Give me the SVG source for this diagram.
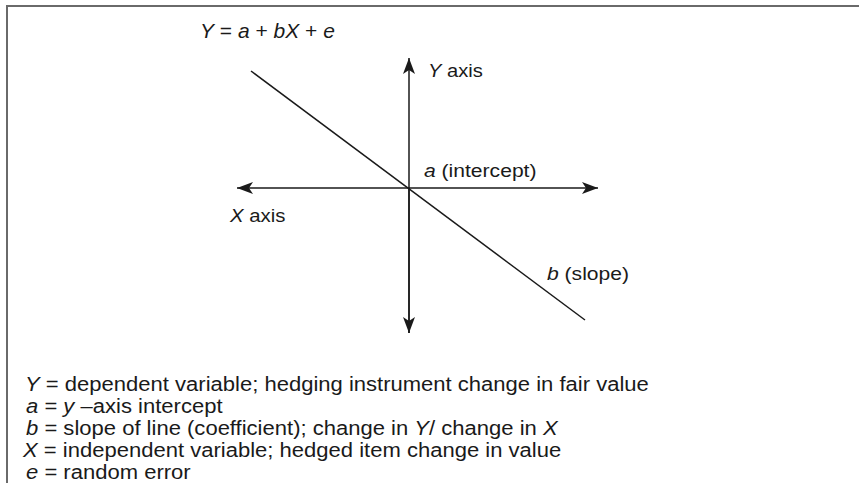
<svg xmlns="http://www.w3.org/2000/svg" width="859" height="483" viewBox="0 0 859 483">
<style>
text{font-family:"Liberation Sans",Arial,Helvetica,sans-serif;fill:#1a1a1a;font-size:18.5px}
.i{font-style:italic}
.f{font-size:20px}
.lg{font-size:19.5px}
.ax{stroke:#1a1a1a;stroke-width:1.5;fill:none}
.frame{stroke:#6a6a6a;stroke-width:2;fill:none}
</style>
<defs>
<marker id="ah" markerUnits="userSpaceOnUse" markerWidth="17" markerHeight="13" refX="16" refY="6.5" orient="auto">
<path d="M0,0.5 L16,6.5 L0,12.5 L4,6.5 Z" fill="#1a1a1a"/>
</marker>
</defs>
<rect width="859" height="483" fill="#ffffff"/>
<path class="frame" d="M7,483 V6 H859"/>
<g id="formula">
<text class="f" transform="translate(200,38) scale(1.05,1)"><tspan class="i">Y</tspan> = <tspan class="i">a</tspan> + <tspan class="i">bX</tspan> + <tspan class="i">e</tspan></text>
</g>
<g id="connectors">
<line class="ax" x1="409" y1="333" x2="409" y2="58" marker-end="url(#ah)"/>
<line class="ax" x1="409" y1="188" x2="409" y2="333" marker-end="url(#ah)"/>
<line class="ax" x1="409" y1="188" x2="598" y2="188" marker-end="url(#ah)"/>
<line class="ax" x1="409" y1="188" x2="237" y2="188" marker-end="url(#ah)"/>
<line class="ax" x1="251" y1="71" x2="585" y2="320"/>
</g>
<g id="y-axis-label">
<text transform="translate(428,77) scale(1.09,1)"><tspan class="i">Y</tspan> axis</text>
</g>
<g id="intercept-label">
<text transform="translate(424,177) scale(1.14,1)"><tspan class="i">a</tspan> (intercept)</text>
</g>
<g id="x-axis-label">
<text transform="translate(230,222) scale(1.1,1)"><tspan class="i">X</tspan> axis</text>
</g>
<g id="slope-label">
<text transform="translate(547,280) scale(1.14,1)"><tspan class="i">b</tspan> (slope)</text>
</g>
<g id="legend" class="lg">
<text class="lg" transform="translate(25,391) scale(1.13,1)"><tspan class="i">Y</tspan> = dependent variable; hedging instrument change in fair value</text>
<text class="lg" transform="translate(26,413) scale(1.13,1)"><tspan class="i">a</tspan> = <tspan class="i">y</tspan> –axis intercept</text>
<text class="lg" transform="translate(26,435) scale(1.13,1)"><tspan class="i">b</tspan> = slope of line (coefficient); change in <tspan class="i">Y</tspan>/ change in <tspan class="i">X</tspan></text>
<text class="lg" transform="translate(23,457) scale(1.13,1)"><tspan class="i">X</tspan> = independent variable; hedged item change in value</text>
<text class="lg" transform="translate(26,479) scale(1.13,1)"><tspan class="i">e</tspan> = random error</text>
</g>
</svg>
